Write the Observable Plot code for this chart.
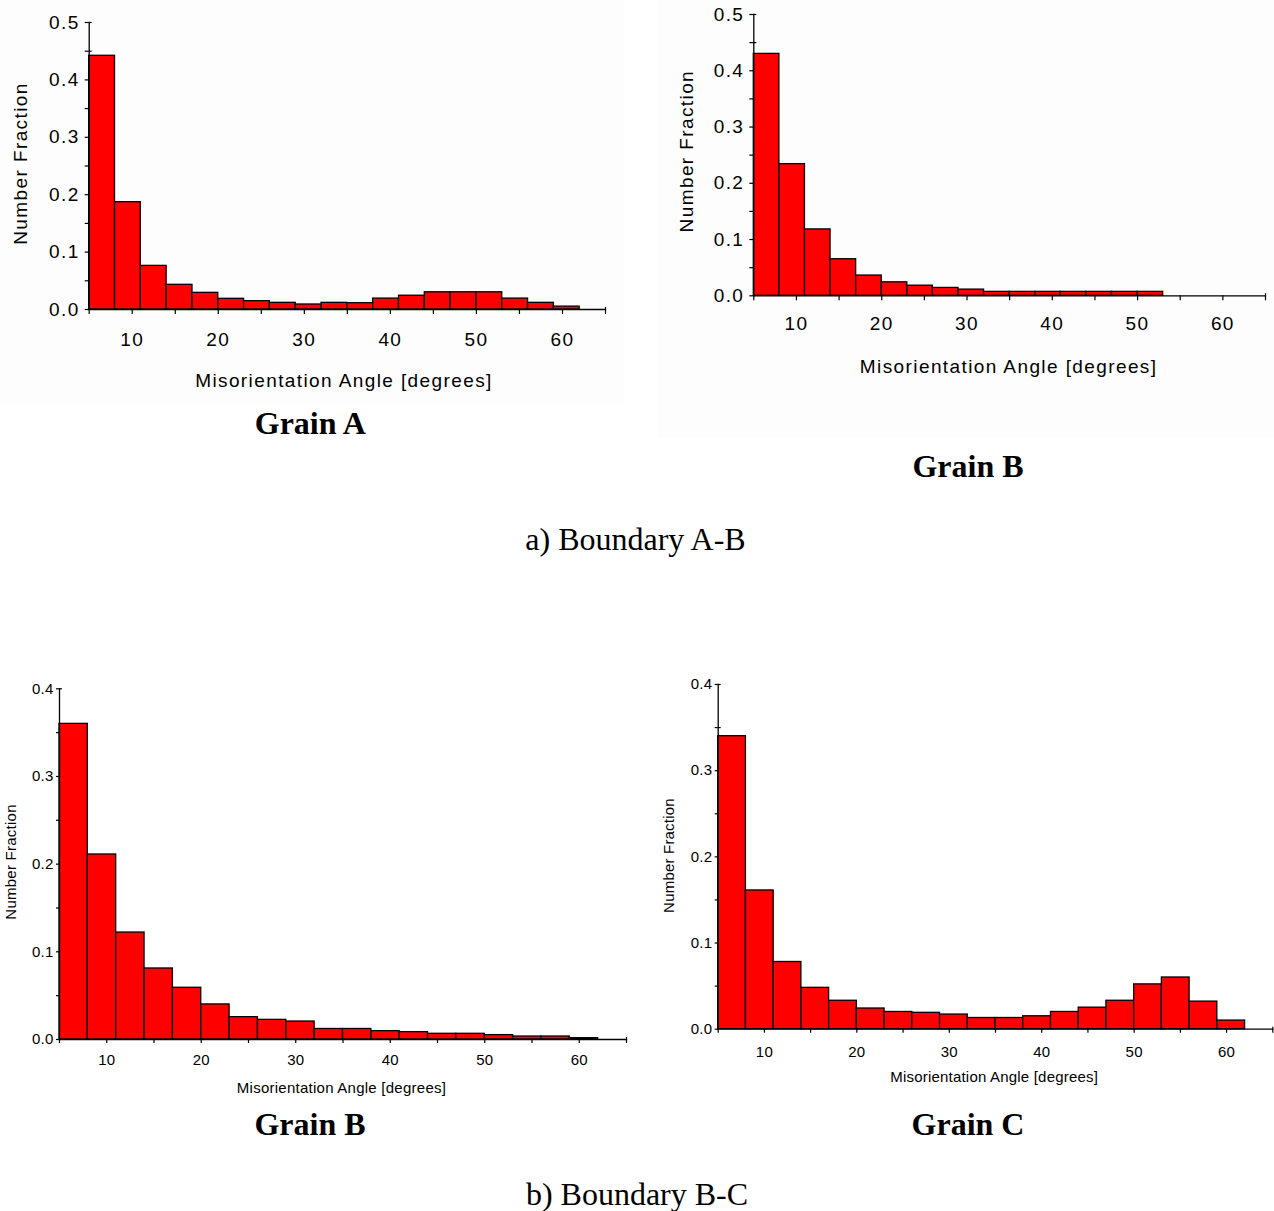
<!DOCTYPE html>
<html><head><meta charset="utf-8">
<script src="https://cdn.jsdelivr.net/npm/d3@7"></script>
<script src="https://cdn.jsdelivr.net/npm/@observablehq/plot@0.6"></script>
<style>
body{margin:0;background:#fff;}
#page{position:relative;width:1274px;height:1211px;overflow:hidden;background:#fff;}
.bg{position:absolute;background:#fdfdfd;}
.panel{position:absolute;}
.panel svg{overflow:visible;}
.cap{position:absolute;font-family:"Liberation Serif","Times New Roman",serif;font-size:32px;line-height:32px;white-space:nowrap;transform:translateX(-50%);color:#000;}
.cap.b{font-weight:bold;}
</style></head><body><div id="page"></div>
<script>
// Bin lower edges (degrees), each bin is 3 degrees wide
const binLow = [5, 8, 11, 14, 17, 20, 23, 26, 29, 32, 35, 38, 41, 44, 47, 50, 53, 56, 59];
const binWidth = 3;

// a) Boundary A-B
const grainA_AB = [0.442, 0.187, 0.076, 0.043, 0.029, 0.0186, 0.0145, 0.0116, 0.0087, 0.0116, 0.011, 0.019, 0.024, 0.030, 0.030, 0.030, 0.019, 0.0116, 0.005];
const grainB_AB = [0.430, 0.234, 0.118, 0.065, 0.036, 0.024, 0.018, 0.014, 0.011, 0.007, 0.007, 0.007, 0.007, 0.007, 0.007, 0.007, 0, 0, 0];
// b) Boundary B-C
const grainB_BC = [0.360, 0.211, 0.122, 0.081, 0.059, 0.040, 0.0255, 0.0224, 0.0205, 0.012, 0.012, 0.0095, 0.0084, 0.0065, 0.0065, 0.005, 0.0034, 0.0034, 0.0015];
const grainC_BC = [0.340, 0.161, 0.078, 0.048, 0.033, 0.024, 0.020, 0.019, 0.017, 0.013, 0.013, 0.015, 0.020, 0.025, 0.033, 0.052, 0.060, 0.032, 0.010];

// Tick values
const xTicks = [5, 10, 15, 20, 25, 30, 35, 40, 45, 50, 55, 60, 65];
const xLabelTicks = [10, 20, 30, 40, 50, 60];
const yTicksTop = [0, 0.05, 0.1, 0.15, 0.2, 0.25, 0.3, 0.35, 0.4, 0.45, 0.5];
const yTicksBottom = [0, 0.05, 0.1, 0.15, 0.2, 0.25, 0.3, 0.35, 0.4];
const crossTop = [0.45, 0.5];
const crossBottom = [0.35, 0.4];

const xTitle = "Misorientation Angle [degrees]";
const yTitle = "Number Fraction";

const page = document.getElementById("page");

function addBg(l, t, w, h) {
  const d = document.createElement("div");
  d.className = "bg";
  Object.assign(d.style, {left: l + "px", top: t + "px", width: w + "px", height: h + "px"});
  page.appendChild(d);
}
addBg(0, 0, 624, 405);
addBg(657, 0, 617, 438);

function hist(cfg) {
  const data = binLow.map((b, i) => ({x1: b, x2: b + binWidth, y1: 0, y2: cfg.values[i]})).filter(d => d.y2 > 0);
  const fmt = d => (xLabelTicks.includes(d) ? String(d) : "");
  const yfmt = d => (Math.round(d * 100) % 10 === 0 ? d.toFixed(1) : "");
  const svg = Plot.plot({
    width: cfg.width,
    height: cfg.height,
    marginLeft: cfg.ml, marginRight: cfg.mr, marginTop: cfg.mt, marginBottom: cfg.mb,
    style: {background: "transparent", fontFamily: "'Liberation Sans', Arial, sans-serif", fontSize: cfg.font + "px", letterSpacing: cfg.ls + "px", color: "black", overflow: "visible"},
    x: {domain: [5, 65]},
    y: {domain: [0, cfg.yMax]},
    marks: [
      Plot.axisY({ticks: cfg.cross, tickSize: -3, tickFormat: () => "", label: null, strokeWidth: 1.2}),
      Plot.rect(data, {x1: "x1", x2: "x2", y1: "y1", y2: "y2", fill: "#ff0000", stroke: "black", strokeWidth: 1.3}),
      Plot.frame({anchor: "left", stroke: "black", strokeWidth: 1.3}),
      Plot.frame({anchor: "bottom", stroke: "black", strokeWidth: 1.3}),
      Plot.axisY({ticks: cfg.yTicks, tickSize: cfg.yts, tickPadding: cfg.ytp, tickFormat: yfmt, label: null, strokeWidth: 1.2}),
      Plot.axisX({ticks: xTicks, tickSize: cfg.xts, tickPadding: cfg.xtp, tickFormat: fmt, label: null, strokeWidth: 1.2}),
      Plot.axisX({ticks: [65], tickSize: -2, tickFormat: () => "", label: null, strokeWidth: 1.2}),
      Plot.text([xTitle], {frameAnchor: "bottom", textAnchor: "middle", lineAnchor: "middle", dy: cfg.xdy, dx: cfg.xdx, text: d => d, fontSize: cfg.font, fill: "black"}),
      Plot.text([yTitle], {frameAnchor: "left", textAnchor: "middle", lineAnchor: "middle", rotate: -90, dx: cfg.ydx, dy: cfg.ydy, text: d => d, fontSize: cfg.font, fill: "black"})
    ]
  });
  const wrap = document.createElement("div");
  wrap.className = "panel";
  Object.assign(wrap.style, {left: cfg.left + "px", top: cfg.top + "px", width: cfg.width + "px", height: cfg.height + "px"});
  wrap.appendChild(svg);
  page.appendChild(wrap);
}

// Top-left: Grain A
hist({values: grainA_AB, left: 0, top: 0, width: 630, height: 400,
  ml: 88.7, mr: 25, mt: 22, mb: 91, yMax: 0.5, yTicks: yTicksTop, cross: crossTop,
  font: 19, ls: 1.4, xts: 5, xtp: 18, yts: 4, ytp: 5.5, xdy: 71, xdx: -3.4, ydx: -68.7, ydy: -2.5});
// Top-right: Grain B
hist({values: grainB_AB, left: 655, top: 0, width: 619, height: 440,
  ml: 98.3, mr: 9, mt: 14, mb: 144.7, yMax: 0.5, yTicks: yTicksTop, cross: crossTop,
  font: 19, ls: 1.4, xts: 5, xtp: 16, yts: 4, ytp: 5.5, xdy: 70.7, xdx: -1, ydx: -67.3, ydy: -4});
// Bottom-left: Grain B
hist({values: grainB_BC, left: 0, top: 670, width: 640, height: 440,
  ml: 59, mr: 14, mt: 18.3, mb: 71, yMax: 0.4, yTicks: yTicksBottom, cross: crossBottom,
  font: 15, ls: 0.25, xts: 4, xtp: 11, yts: 3, ytp: 3, xdy: 49, xdx: -1.5, ydx: -48, ydy: -2.2});
// Bottom-right: Grain C
hist({values: grainC_BC, left: 660, top: 670, width: 614, height: 440,
  ml: 57.7, mr: 1.7, mt: 14, mb: 81.3, yMax: 0.4, yTicks: yTicksBottom, cross: crossBottom,
  font: 15, ls: 0.2, xts: 4, xtp: 13, yts: 3, ytp: 3, xdy: 48.3, xdx: -1.3, ydx: -48.7, ydy: -1.3});

function cap(text, cx, top, bold) {
  const d = document.createElement("div");
  d.className = "cap" + (bold ? " b" : "");
  d.textContent = text;
  d.style.left = cx + "px";
  d.style.top = top + "px";
  page.appendChild(d);
}
cap("Grain A", 310.3, 407, true);
cap("Grain B", 968, 450, true);
cap("a) Boundary A-B", 635.5, 523, false);
cap("Grain B", 310, 1108, true);
cap("Grain C", 968, 1108, true);
cap("b) Boundary B-C", 637, 1178, false);
</script>
</body></html>
